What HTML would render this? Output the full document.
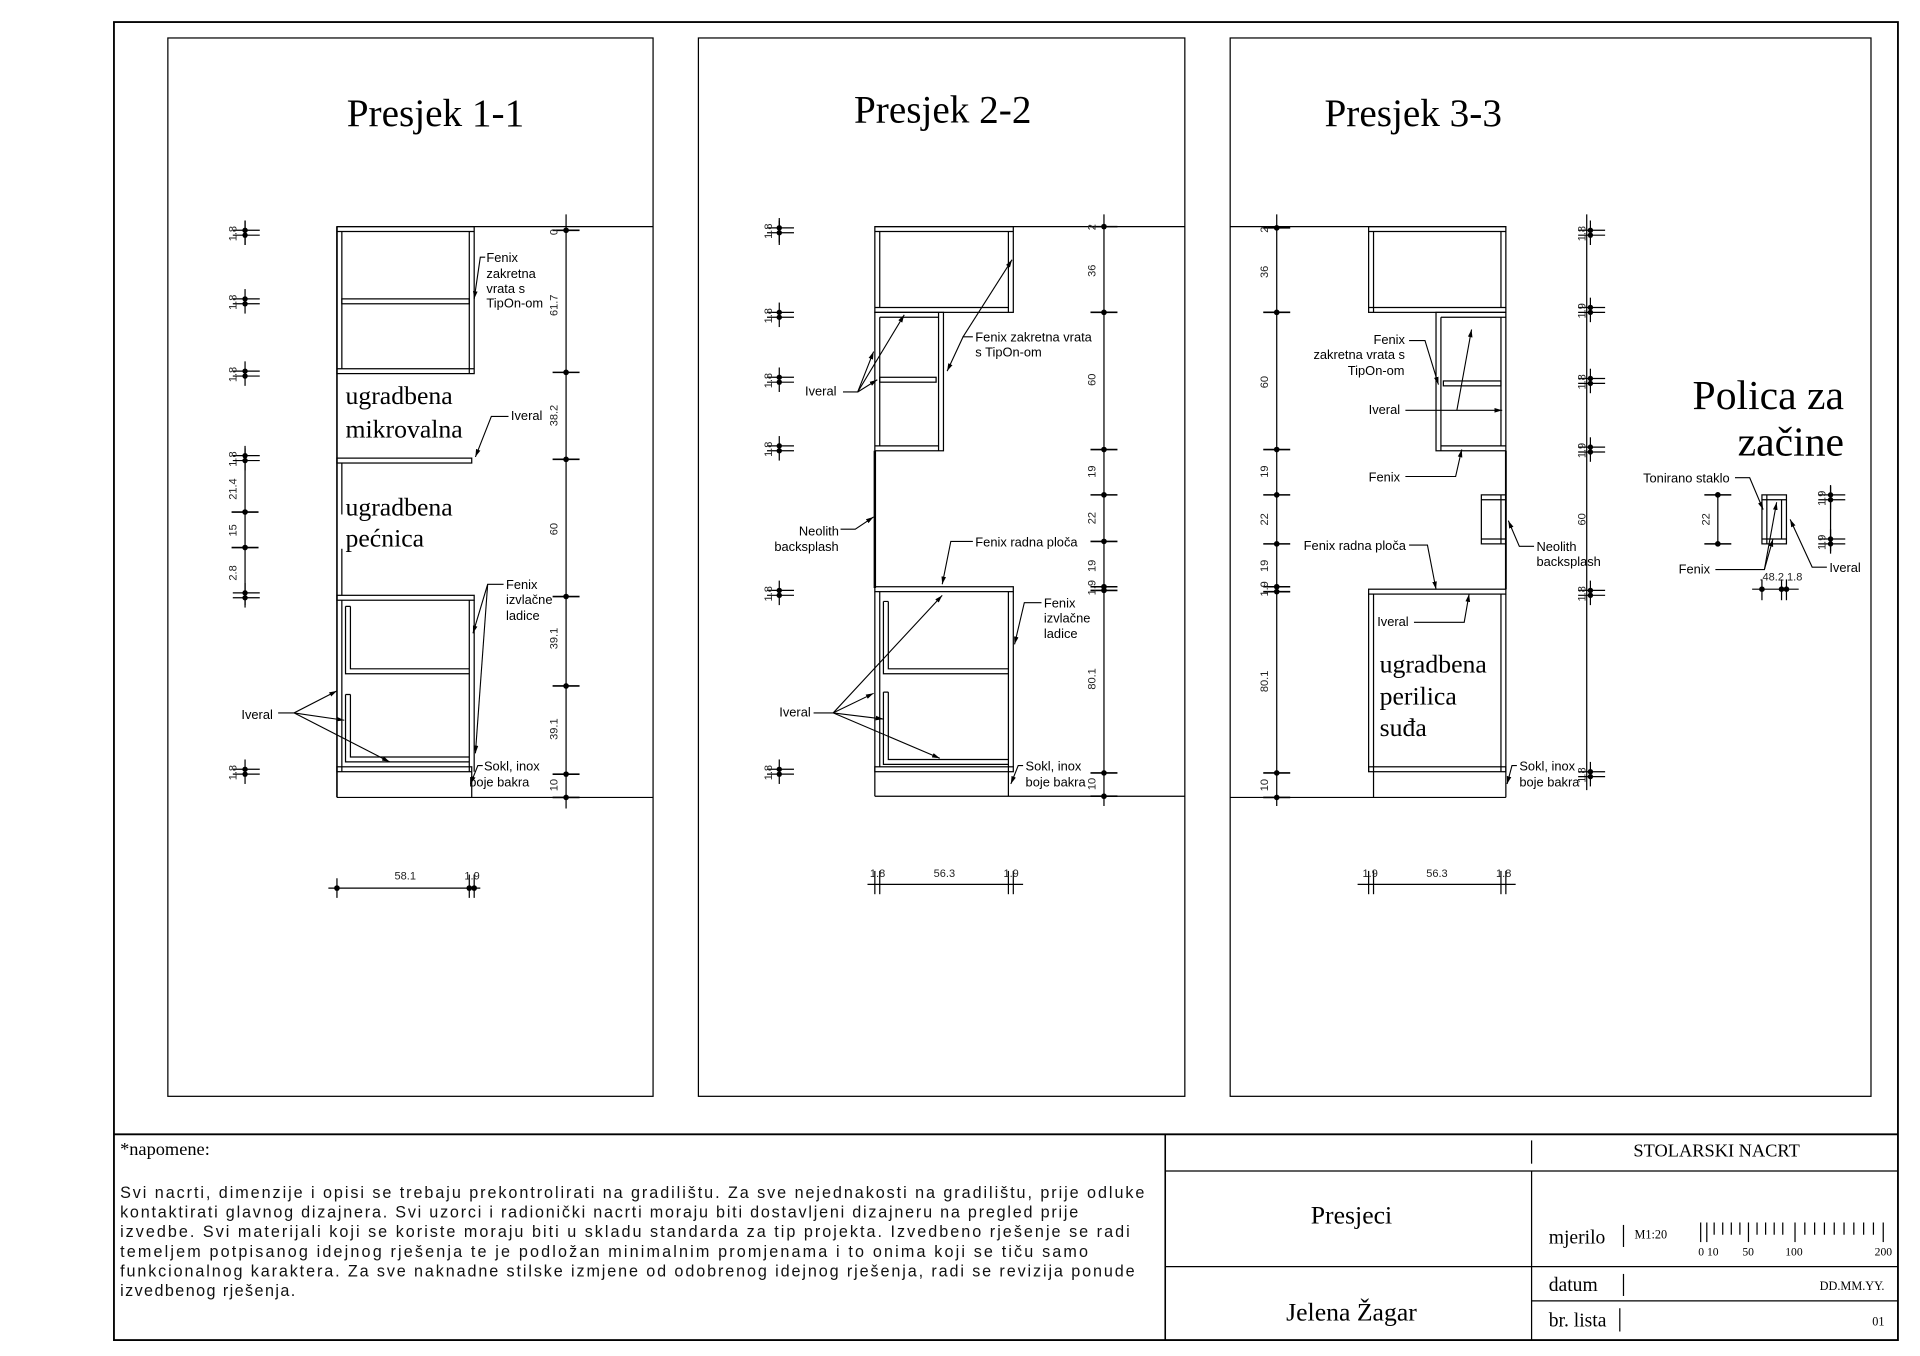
<!DOCTYPE html>
<html><head><meta charset="utf-8"><style>
html,body{margin:0;padding:0;background:#fff;width:1920px;height:1356px;overflow:hidden}
svg{display:block}
.s{font-family:"Liberation Sans",sans-serif;font-size:10.5px;fill:#000}
.d{font-family:"Liberation Sans",sans-serif;font-size:9px;fill:#222}
.r{font-family:"Liberation Serif",serif;fill:#000}
.n{font-family:"Liberation Sans",sans-serif;font-size:13.2px;fill:#111}
</style></head><body>
<svg width="1920" height="1356" viewBox="0 0 1567 1107" preserveAspectRatio="none" xmlns="http://www.w3.org/2000/svg">
<defs>
<marker id="a" viewBox="0 0 10 10" refX="10" refY="5" markerWidth="7" markerHeight="7" orient="auto-start-reverse"><path d="M0,2 L10,5 L0,8 z" fill="#000"/></marker>
<g id="tk"><line x1="-11" y1="0" x2="11" y2="0" stroke="#000" stroke-width="1.3"/><circle r="2.3" fill="#000"/></g>
<g id="dt"><line x1="-10" y1="-2" x2="12" y2="-2" stroke="#000" stroke-width="1"/><line x1="-10" y1="2" x2="12" y2="2" stroke="#000" stroke-width="1"/><line x1="0" y1="-10" x2="0" y2="10" stroke="#000" stroke-width="1"/><circle cy="-2" r="2.2" fill="#000"/><circle cy="2" r="2.2" fill="#000"/></g>
</defs>
<g fill="none" stroke="#000" stroke-width="1">
<rect x="93" y="18" width="1456" height="1076" stroke-width="1.5"/>
<rect x="137" y="31" width="396" height="864"/>
<rect x="570" y="31" width="397" height="864"/>
<rect x="1004" y="31" width="523" height="864"/>
<line x1="93" y1="926" x2="1549" y2="926" stroke-width="1.5"/>
<line x1="951" y1="926" x2="951" y2="1094" stroke-width="1.3"/>
<line x1="951" y1="956" x2="1549" y2="956"/>
<line x1="951" y1="1034" x2="1549" y2="1034"/>
<line x1="1250" y1="1062" x2="1549" y2="1062"/>
<line x1="1250" y1="956" x2="1250" y2="1094"/>
<line x1="1250" y1="931" x2="1250" y2="950"/>
</g>

<!-- ===== PANEL 1 ===== -->
<text class="r" x="283" y="103" font-size="32">Presjek 1-1</text>
<g fill="none" stroke="#000" stroke-width="1">
<line x1="275" y1="185" x2="533" y2="185"/>
<line x1="275" y1="651" x2="533" y2="651"/>
<line x1="275" y1="185" x2="275" y2="651" stroke-width="1.3"/>
<rect x="275" y="185" width="112" height="120"/>
<line x1="275" y1="189" x2="387" y2="189"/>
<line x1="279" y1="189" x2="279" y2="301"/>
<line x1="275" y1="301" x2="387" y2="301"/>
<line x1="383" y1="189" x2="383" y2="305"/>
<rect x="279" y="244" width="104" height="4"/>
<rect x="275" y="374" width="110" height="4"/>
<line x1="279" y1="378" x2="279" y2="420"/>
<line x1="279" y1="448" x2="279" y2="486"/>
<rect x="275" y="486" width="112" height="4"/>
<line x1="279" y1="490" x2="279" y2="630"/>
<line x1="383" y1="490" x2="383" y2="630"/>
<line x1="387" y1="490" x2="387" y2="630"/>
<path d="M282,495 V550 H383 M286,495 V546 H383 M282,495 H286"/>
<path d="M282,567 V622 H383 M286,567 V618 H383 M282,567 H286"/>
<rect x="275" y="626" width="110" height="4"/>
<line x1="385" y1="630" x2="385" y2="651"/>
<line x1="462" y1="175" x2="462" y2="660"/>
<line x1="200" y1="180" x2="200" y2="200"/>
<line x1="200" y1="366" x2="200" y2="494"/>
<line x1="268" y1="725" x2="392" y2="725"/>
<line x1="275" y1="717" x2="275" y2="733"/>
<line x1="383" y1="714" x2="383" y2="733"/>
<line x1="387" y1="714" x2="387" y2="733"/>
</g>
<circle cx="275" cy="725" r="2.3"/><circle cx="383" cy="725" r="2.3"/><circle cx="387" cy="725" r="2.3"/>
<text class="d" x="322" y="718">58.1</text><text class="d" x="379" y="718">1.9</text>
<g>
<use href="#tk" x="462" y="188"/><use href="#tk" x="462" y="304"/><use href="#tk" x="462" y="375"/><use href="#tk" x="462" y="487"/><use href="#tk" x="462" y="560"/><use href="#tk" x="462" y="632"/><use href="#tk" x="462" y="651"/>
<use href="#dt" x="200" y="190"/><use href="#dt" x="200" y="246"/><use href="#dt" x="200" y="305"/><use href="#dt" x="200" y="374"/><use href="#tk" x="200" y="418"/><use href="#tk" x="200" y="447"/><use href="#dt" x="200" y="486"/><use href="#dt" x="200" y="630"/>
</g>
<g class="d">
<text transform="translate(455,192) rotate(-90)">0</text>
<text transform="translate(455,258) rotate(-90)">61.7</text>
<text transform="translate(455,348) rotate(-90)">38.2</text>
<text transform="translate(455,437) rotate(-90)">60</text>
<text transform="translate(455,530) rotate(-90)">39.1</text>
<text transform="translate(455,604) rotate(-90)">39.1</text>
<text transform="translate(455,646) rotate(-90)">10</text>
<text transform="translate(193,197) rotate(-90)">1.8</text>
<text transform="translate(193,253) rotate(-90)">1.8</text>
<text transform="translate(193,312) rotate(-90)">1.8</text>
<text transform="translate(193,381) rotate(-90)">1.8</text>
<text transform="translate(193,408) rotate(-90)">21.4</text>
<text transform="translate(193,438) rotate(-90)">15</text>
<text transform="translate(193,474) rotate(-90)">2.8</text>
<text transform="translate(193,637) rotate(-90)">1.8</text>
</g>
<text class="r" x="282" y="330" font-size="21">ugradbena</text>
<text class="r" x="282" y="357" font-size="21">mikrovalna</text>
<text class="r" x="282" y="421" font-size="21">ugradbena</text>
<text class="r" x="282" y="446" font-size="21">pećnica</text>
<g class="s"><text x="397" y="214">Fenix</text><text x="397" y="227">zakretna</text><text x="397" y="239">vrata s</text><text x="397" y="251">TipOn-om</text>
<text x="417" y="343">Iveral</text>
<text x="413" y="481">Fenix</text><text x="413" y="493">izvlačne</text><text x="413" y="506">ladice</text>
<text x="197" y="587">Iveral</text>
<text x="395" y="629">Sokl, inox</text><text x="383" y="642">boje bakra</text></g>
<g fill="none" stroke="#000" stroke-width="0.9">
<path d="M396,210 H392 L387,244" marker-end="url(#a)"/>
<path d="M415,340 H401 L388,373" marker-end="url(#a)"/>
<path d="M411,477 H398 L386,517" marker-end="url(#a)"/>
<path d="M398,477 L388,615" marker-end="url(#a)"/>
<path d="M227,582 H240 L275,564" marker-end="url(#a)"/>
<path d="M240,582 L281,588" marker-end="url(#a)"/>
<path d="M240,582 L318,622" marker-end="url(#a)"/>
<path d="M394,625 H390 L384,640" marker-end="url(#a)"/>
</g>

<!-- ===== PANEL 2 ===== -->
<text class="r" x="697" y="100" font-size="32">Presjek 2-2</text>
<g fill="none" stroke="#000" stroke-width="1">
<line x1="714" y1="185" x2="967" y2="185"/>
<line x1="714" y1="650" x2="967" y2="650"/>
<rect x="714" y="185" width="113" height="70"/>
<line x1="714" y1="189" x2="827" y2="189"/>
<line x1="718" y1="189" x2="718" y2="251"/>
<line x1="714" y1="251" x2="823" y2="251"/>
<line x1="823" y1="189" x2="823" y2="255"/>
<rect x="714" y="255" width="56" height="113"/>
<line x1="718" y1="259" x2="766" y2="259"/>
<line x1="718" y1="259" x2="718" y2="364"/>
<line x1="714" y1="364" x2="766" y2="364"/>
<line x1="766" y1="255" x2="766" y2="368"/>
<rect x="718" y="308" width="46" height="4"/>
<line x1="714" y1="368" x2="714" y2="480" stroke-width="2"/>
<rect x="714" y="479" width="113" height="4"/>
<line x1="714" y1="483" x2="714" y2="650"/>
<line x1="718" y1="483" x2="718" y2="626"/>
<line x1="823" y1="483" x2="823" y2="650"/>
<line x1="827" y1="483" x2="827" y2="626"/>
<path d="M721,491 V550 H823 M725,491 V546 H823 M721,491 H725"/>
<path d="M721,565 V624 H823 M725,565 V620 H823 M721,565 H725"/>
<rect x="714" y="626" width="113" height="4"/>
<line x1="901" y1="175" x2="901" y2="658"/>
<line x1="636" y1="180" x2="636" y2="200"/>
<line x1="708" y1="722" x2="835" y2="722"/>
<line x1="714" y1="711" x2="714" y2="730"/><line x1="718" y1="711" x2="718" y2="730"/>
<line x1="823" y1="711" x2="823" y2="730"/><line x1="827" y1="711" x2="827" y2="730"/>
</g>
<text class="d" x="710" y="716">1.8</text><text class="d" x="762" y="716">56.3</text><text class="d" x="819" y="716">1.9</text>
<g>
<use href="#tk" x="901" y="185"/><use href="#tk" x="901" y="255"/><use href="#tk" x="901" y="367"/><use href="#tk" x="901" y="404"/><use href="#tk" x="901" y="442"/><use href="#tk" x="901" y="479"/><use href="#tk" x="901" y="482"/><use href="#tk" x="901" y="631"/><use href="#tk" x="901" y="650"/>
<use href="#dt" x="636" y="188"/><use href="#dt" x="636" y="257"/><use href="#dt" x="636" y="310"/><use href="#dt" x="636" y="366"/><use href="#dt" x="636" y="484"/><use href="#dt" x="636" y="630"/>
</g>
<g class="d">
<text transform="translate(894,188) rotate(-90)">2</text>
<text transform="translate(894,226) rotate(-90)">36</text>
<text transform="translate(894,315) rotate(-90)">60</text>
<text transform="translate(894,390) rotate(-90)">19</text>
<text transform="translate(894,428) rotate(-90)">22</text>
<text transform="translate(894,467) rotate(-90)">19</text>
<text transform="translate(894,486) rotate(-90)">1.9</text>
<text transform="translate(894,563) rotate(-90)">80.1</text>
<text transform="translate(894,645) rotate(-90)">10</text>
<text transform="translate(630,195) rotate(-90)">1.8</text>
<text transform="translate(630,264) rotate(-90)">1.8</text>
<text transform="translate(630,317) rotate(-90)">1.8</text>
<text transform="translate(630,373) rotate(-90)">1.8</text>
<text transform="translate(630,491) rotate(-90)">1.8</text>
<text transform="translate(630,637) rotate(-90)">1.8</text>
</g>
<g class="s"><text x="796" y="279">Fenix zakretna vrata</text><text x="796" y="291">s TipOn-om</text>
<text x="657" y="323">Iveral</text>
<text x="652" y="437">Neolith</text><text x="632" y="450">backsplash</text>
<text x="796" y="446">Fenix radna ploča</text>
<text x="852" y="496">Fenix</text><text x="852" y="508">izvlačne</text><text x="852" y="521">ladice</text>
<text x="636" y="585">Iveral</text>
<text x="837" y="629">Sokl, inox</text><text x="837" y="642">boje bakra</text></g>
<g fill="none" stroke="#000" stroke-width="0.9">
<path d="M794,275 H786 L773,303" marker-end="url(#a)"/>
<path d="M786,275 L826,212" marker-end="url(#a)"/>
<path d="M688,320 H700 L713,287" marker-end="url(#a)"/>
<path d="M700,320 L738,257" marker-end="url(#a)"/>
<path d="M700,320 L716,310" marker-end="url(#a)"/>
<path d="M686,432 H698 L713,422" marker-end="url(#a)"/>
<path d="M794,442 H776 L769,477" marker-end="url(#a)"/>
<path d="M850,492 H836 L828,526" marker-end="url(#a)"/>
<path d="M664,582 H680 L769,486" marker-end="url(#a)"/>
<path d="M680,582 L713,566" marker-end="url(#a)"/>
<path d="M680,582 L721,587" marker-end="url(#a)"/>
<path d="M680,582 L767,619" marker-end="url(#a)"/>
<path d="M835,625 H831 L825,640" marker-end="url(#a)"/>
</g>

<!-- ===== PANEL 3 ===== -->
<text class="r" x="1081" y="103" font-size="32">Presjek 3-3</text>
<g fill="none" stroke="#000" stroke-width="1">
<line x1="1004" y1="185" x2="1229" y2="185"/>
<line x1="1004" y1="651" x2="1229" y2="651"/>
<rect x="1117" y="185" width="112" height="70"/>
<line x1="1117" y1="189" x2="1229" y2="189"/>
<line x1="1121" y1="189" x2="1121" y2="255"/>
<line x1="1225" y1="189" x2="1225" y2="251"/>
<line x1="1117" y1="251" x2="1229" y2="251"/>
<rect x="1172" y="255" width="57" height="113"/>
<line x1="1176" y1="259" x2="1229" y2="259"/>
<line x1="1176" y1="259" x2="1176" y2="368"/>
<line x1="1225" y1="259" x2="1225" y2="364"/>
<line x1="1176" y1="364" x2="1229" y2="364"/>
<rect x="1178" y="311" width="47" height="4"/>
<line x1="1229" y1="368" x2="1229" y2="481" stroke-width="1.5"/>
<rect x="1209" y="404" width="20" height="40"/>
<line x1="1209" y1="408" x2="1229" y2="408"/><line x1="1209" y1="440" x2="1229" y2="440"/><line x1="1225" y1="404" x2="1225" y2="444"/>
<rect x="1117" y="481" width="112" height="4"/>
<line x1="1117" y1="485" x2="1117" y2="630"/>
<line x1="1121" y1="485" x2="1121" y2="651"/>
<line x1="1225" y1="485" x2="1225" y2="630"/>
<line x1="1229" y1="485" x2="1229" y2="651"/>
<rect x="1117" y="626" width="112" height="4"/>
<line x1="1042" y1="175" x2="1042" y2="658"/>
<line x1="1295" y1="175" x2="1295" y2="645"/>
<line x1="1108" y1="722" x2="1237" y2="722"/>
<line x1="1117" y1="711" x2="1117" y2="730"/><line x1="1121" y1="711" x2="1121" y2="730"/>
<line x1="1225" y1="711" x2="1225" y2="730"/><line x1="1229" y1="711" x2="1229" y2="730"/>
</g>
<text class="d" x="1112" y="716">1.9</text><text class="d" x="1164" y="716">56.3</text><text class="d" x="1221" y="716">1.8</text>
<g>
<use href="#tk" x="1042" y="186"/><use href="#tk" x="1042" y="255"/><use href="#tk" x="1042" y="367"/><use href="#tk" x="1042" y="404"/><use href="#tk" x="1042" y="444"/><use href="#tk" x="1042" y="479"/><use href="#tk" x="1042" y="483"/><use href="#tk" x="1042" y="631"/><use href="#tk" x="1042" y="651"/>
<use href="#dt" x="1298" y="190"/><use href="#dt" x="1298" y="253"/><use href="#dt" x="1298" y="311"/><use href="#dt" x="1298" y="367"/><use href="#dt" x="1298" y="484"/><use href="#dt" x="1298" y="632"/>
</g>
<g class="d">
<text transform="translate(1035,190) rotate(-90)">2</text>
<text transform="translate(1035,227) rotate(-90)">36</text>
<text transform="translate(1035,317) rotate(-90)">60</text>
<text transform="translate(1035,390) rotate(-90)">19</text>
<text transform="translate(1035,429) rotate(-90)">22</text>
<text transform="translate(1035,467) rotate(-90)">19</text>
<text transform="translate(1035,487) rotate(-90)">1.9</text>
<text transform="translate(1035,565) rotate(-90)">80.1</text>
<text transform="translate(1035,646) rotate(-90)">10</text>
<text transform="translate(1294,197) rotate(-90)">1.8</text>
<text transform="translate(1294,260) rotate(-90)">1.9</text>
<text transform="translate(1294,318) rotate(-90)">1.8</text>
<text transform="translate(1294,374) rotate(-90)">1.9</text>
<text transform="translate(1294,429) rotate(-90)">60</text>
<text transform="translate(1294,491) rotate(-90)">1.8</text>
<text transform="translate(1294,639) rotate(-90)">1.8</text>
</g>
<text class="r" x="1126" y="549" font-size="21">ugradbena</text>
<text class="r" x="1126" y="575" font-size="21">perilica</text>
<text class="r" x="1126" y="601" font-size="21">suđa</text>
<g class="s"><text x="1121" y="281">Fenix</text><text x="1072" y="293">zakretna vrata s</text><text x="1100" y="306">TipOn-om</text>
<text x="1117" y="338">Iveral</text>
<text x="1117" y="393">Fenix</text>
<text x="1064" y="449">Fenix radna ploča</text>
<text x="1124" y="511">Iveral</text>
<text x="1254" y="450">Neolith</text><text x="1254" y="462">backsplash</text>
<text x="1240" y="629">Sokl, inox</text><text x="1240" y="642">boje bakra</text></g>
<g fill="none" stroke="#000" stroke-width="0.9">
<path d="M1150,278 H1163 L1174,314" marker-end="url(#a)"/>
<path d="M1147,335 H1174 M1174,335 H1226" marker-end="url(#a)"/>
<path d="M1189,335 L1201,269" marker-end="url(#a)"/>
<path d="M1147,389 H1188 L1193,367" marker-end="url(#a)"/>
<path d="M1150,445 H1165 L1172,481" marker-end="url(#a)"/>
<path d="M1154,508 H1195 L1199,485" marker-end="url(#a)"/>
<path d="M1252,446 H1240 L1231,425" marker-end="url(#a)"/>
<path d="M1238,625 H1234 L1230,640" marker-end="url(#a)"/>
</g>
<!-- Polica -->
<text class="r" x="1505" y="334" font-size="34" text-anchor="end">Polica za</text>
<text class="r" x="1505" y="372" font-size="34" text-anchor="end">začine</text>
<g fill="none" stroke="#000" stroke-width="1">
<rect x="1438" y="404" width="20" height="40"/>
<line x1="1442" y1="404" x2="1442" y2="444"/><line x1="1454" y1="408" x2="1454" y2="440"/>
<line x1="1438" y1="408" x2="1458" y2="408"/><line x1="1438" y1="440" x2="1458" y2="440"/>
<line x1="1402" y1="404" x2="1402" y2="444"/>
<line x1="1494" y1="397" x2="1494" y2="450"/>
<line x1="1430" y1="481" x2="1468" y2="481"/>
<line x1="1438" y1="473" x2="1438" y2="490"/><line x1="1454" y1="473" x2="1454" y2="490"/><line x1="1458" y1="473" x2="1458" y2="490"/>
</g>
<use href="#tk" x="1402" y="404"/><use href="#tk" x="1402" y="444"/>
<use href="#dt" x="1494" y="406"/><use href="#dt" x="1494" y="442"/>
<circle cx="1438" cy="481" r="2.3"/><circle cx="1454" cy="481" r="2.3"/><circle cx="1458" cy="481" r="2.3"/>
<g class="d"><text transform="translate(1395,429) rotate(-90)">22</text>
<text transform="translate(1490,413) rotate(-90)">1.9</text><text transform="translate(1490,449) rotate(-90)">1.9</text>
<text x="1436" y="474">.48.2 1.8</text></g>
<g class="s"><text x="1341" y="394">Tonirano staklo</text><text x="1370" y="468">Fenix</text><text x="1493" y="467">Iveral</text></g>
<g fill="none" stroke="#000" stroke-width="0.9">
<path d="M1416,390 H1428 L1439,416" marker-end="url(#a)"/>
<path d="M1400,465 H1440 L1447,440" marker-end="url(#a)"/>
<path d="M1440,465 L1450,410" marker-end="url(#a)"/>
<path d="M1491,463 H1479 L1461,424" marker-end="url(#a)"/>
</g>

<!-- ===== TITLE BLOCK ===== -->
<text class="r" x="98" y="943" font-size="15">*napomene:</text>
<g class="n">
<text x="98" y="978" textLength="836" lengthAdjust="spacing">Svi nacrti, dimenzije i opisi se trebaju prekontrolirati na gradilištu. Za sve nejednakosti na gradilištu, prije odluke</text>
<text x="98" y="994" textLength="782" lengthAdjust="spacing">kontaktirati glavnog dizajnera. Svi uzorci i radionički nacrti moraju biti dostavljeni dizajneru na pregled prije</text>
<text x="98" y="1010" textLength="824" lengthAdjust="spacing">izvedbe. Svi materijali koji se koriste moraju biti u skladu standarda za tip projekta. Izvedbeno rješenje se radi</text>
<text x="98" y="1026" textLength="790" lengthAdjust="spacing">temeljem potpisanog idejnog rješenja te je podložan minimalnim promjenama i to onima koji se tiču samo</text>
<text x="98" y="1042" textLength="828" lengthAdjust="spacing">funkcionalnog karaktera. Za sve naknadne stilske izmjene od odobrenog idejnog rješenja, radi se revizija ponude</text>
<text x="98" y="1058" textLength="143" lengthAdjust="spacing">izvedbenog rješenja.</text>
</g>
<text class="r" x="1401" y="944" font-size="15" text-anchor="middle">STOLARSKI NACRT</text>
<text class="r" x="1103" y="999" font-size="21" text-anchor="middle">Presjeci</text>
<text class="r" x="1103" y="1078" font-size="21" text-anchor="middle">Jelena Žagar</text>
<text class="r" x="1264" y="1015" font-size="16">mjerilo</text>
<text class="r" x="1264" y="1054" font-size="16">datum</text>
<text class="r" x="1264" y="1083" font-size="16">br. lista</text>
<g stroke="#000" stroke-width="1">
<line x1="1325" y1="1000" x2="1325" y2="1018"/>
<line x1="1325" y1="1040" x2="1325" y2="1058"/>
<line x1="1322" y1="1068" x2="1322" y2="1087"/>
</g>
<text class="r" x="1334" y="1011" font-size="10">M1:20</text>
<g stroke="#000" stroke-width="1">
<line x1="1388" y1="998" x2="1388" y2="1014"/><line x1="1393" y1="998" x2="1393" y2="1014"/>
<line x1="1399" y1="998" x2="1399" y2="1008"/><line x1="1406" y1="998" x2="1406" y2="1008"/><line x1="1413" y1="998" x2="1413" y2="1008"/><line x1="1420" y1="998" x2="1420" y2="1008"/>
<line x1="1427" y1="998" x2="1427" y2="1014"/>
<line x1="1434" y1="998" x2="1434" y2="1008"/><line x1="1441" y1="998" x2="1441" y2="1008"/><line x1="1448" y1="998" x2="1448" y2="1008"/><line x1="1455" y1="998" x2="1455" y2="1008"/>
<line x1="1465" y1="998" x2="1465" y2="1014"/>
<line x1="1473" y1="998" x2="1473" y2="1008"/><line x1="1481" y1="998" x2="1481" y2="1008"/><line x1="1489" y1="998" x2="1489" y2="1008"/><line x1="1497" y1="998" x2="1497" y2="1008"/><line x1="1505" y1="998" x2="1505" y2="1008"/><line x1="1513" y1="998" x2="1513" y2="1008"/><line x1="1521" y1="998" x2="1521" y2="1008"/><line x1="1529" y1="998" x2="1529" y2="1008"/>
<line x1="1537" y1="998" x2="1537" y2="1014"/>
</g>
<g class="r" font-size="9.5"><text x="1386" y="1025">0 10</text><text x="1422" y="1025">50</text><text x="1457" y="1025">100</text><text x="1530" y="1025">200</text></g>
<text class="r" x="1538" y="1053" font-size="10" text-anchor="end">DD.MM.YY.</text>
<text class="r" x="1538" y="1082" font-size="10" text-anchor="end">01</text>
</svg>
</body></html>
